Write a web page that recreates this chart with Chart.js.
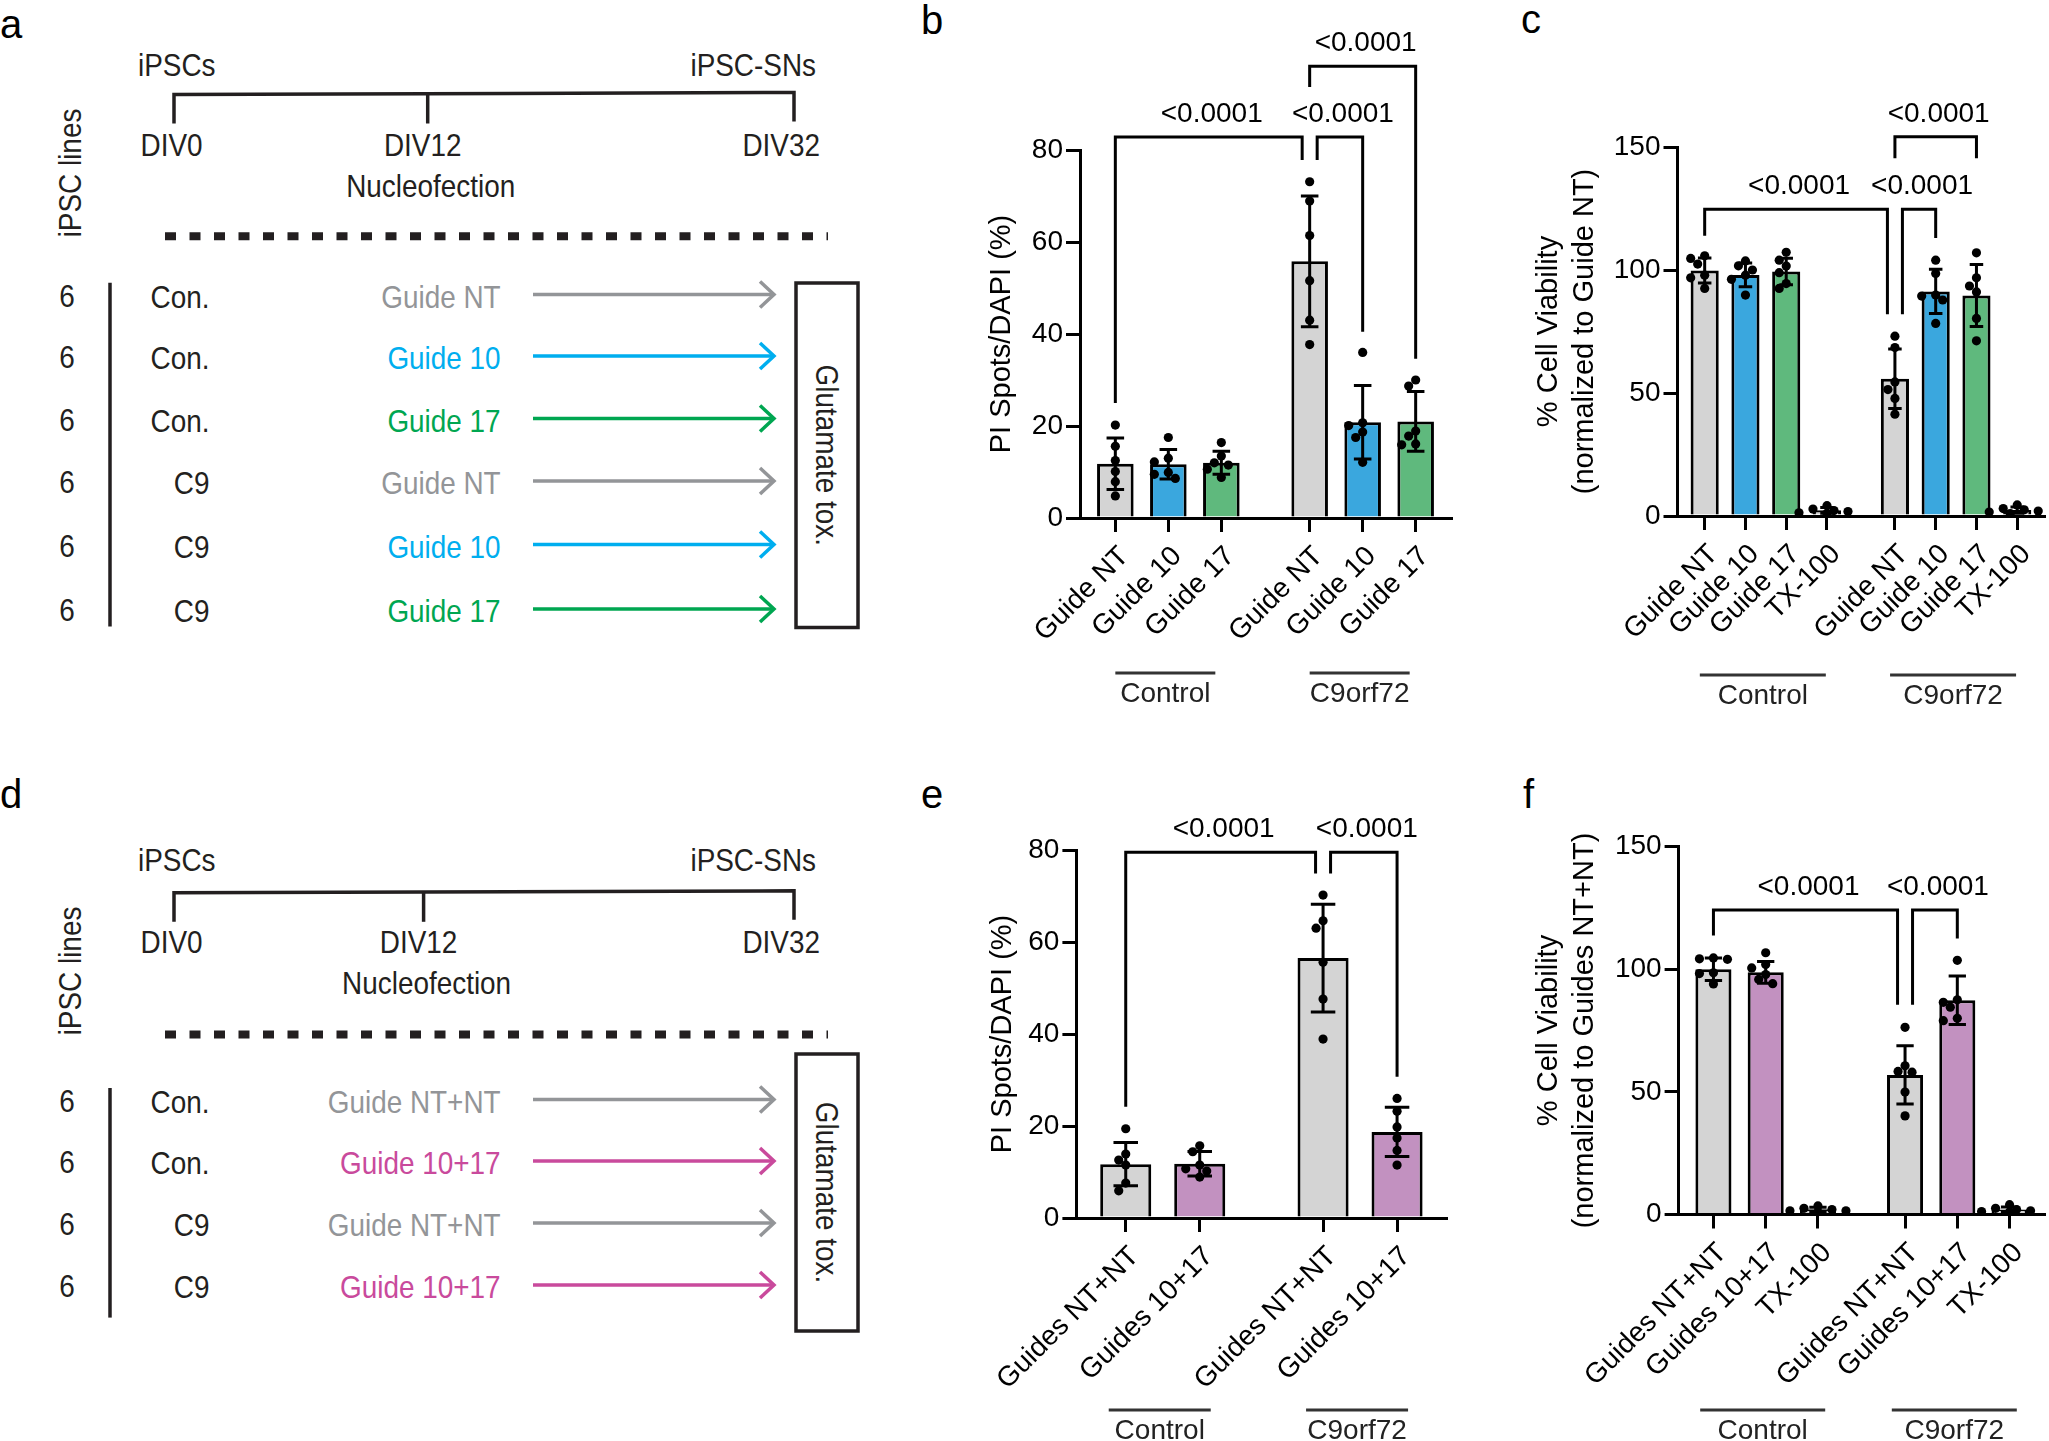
<!DOCTYPE html>
<html>
<head>
<meta charset="utf-8">
<title>Glutamate toxicity</title>
<script src="https://cdn.jsdelivr.net/npm/chart.js@4.4.1/dist/chart.umd.min.js"></script>
<style>
  html, body { margin: 0; padding: 0; background: #fff; }
  body { width: 2049px; height: 1441px; position: relative; overflow: hidden; }
  #scheme { position: absolute; left: 0; top: 0; }
  .box { position: absolute; }
</style>
</head>
<body>
<svg id="scheme" width="2049" height="1441"></svg>
<div class="box" style="left:930px;top:0;width:530px;height:720px"><canvas id="chartB"></canvas></div>
<div class="box" style="left:1500px;top:0;width:549px;height:720px"><canvas id="chartC"></canvas></div>
<div class="box" style="left:930px;top:760px;width:530px;height:681px"><canvas id="chartE"></canvas></div>
<div class="box" style="left:1500px;top:760px;width:549px;height:681px"><canvas id="chartF"></canvas></div>
<script>
// panel b - PI spots, single guides
const bLabels = ['Guide NT', 'Guide 10', 'Guide 17', 'Guide NT', 'Guide 10', 'Guide 17'];
const bGroups = [0, 0, 0, 1, 1, 1];
const bMeans = [11.8, 11.7, 12.0, 55.8, 20.8, 21.0];
const bSD = [5.6, 3.2, 2.5, 14.2, 8.0, 6.5];
const bPoints = [
    [20.2, 15.6, 12.5, 10.1, 7.9, 4.8],
    [17.5, 13.0, 12.2, 9.9, 9.5, 8.6],
    [16.4, 13.5, 12.0, 11.5, 10.6, 8.8],
    [73.1, 68.9, 61.4, 51.6, 43.0, 37.7],
    [36.0, 20.7, 20.1, 18.7, 17.5, 12.1],
    [30.0, 28.7, 18.9, 17.8, 16.1, 15.9]
];
const bBrackets = [
    { from: 0, to: 3, level: 82.8, fromEnd: 25.0, toEnd: 77.8, text: '<0.0001' },
    { from: 3, to: 4, level: 82.8, fromEnd: 77.8, toEnd: 40.5, text: '<0.0001' },
    { from: 3, to: 5, level: 98.2, fromEnd: 93.7, toEnd: 34.6, text: '<0.0001' }
];

// panel c - viability, single guides
const cLabels = ['Guide NT', 'Guide 10', 'Guide 17', 'TX-100', 'Guide NT', 'Guide 10', 'Guide 17', 'TX-100'];
const cGroups = [0, 0, 0, 0, 1, 1, 1, 1];
const cMeans = [99.8, 98.0, 99.4, 2.3, 55.8, 91.3, 89.6, 2.4];
const cSD = [5.1, 4.8, 5.4, 1.2, 12.1, 9.0, 12.6, 1.3];
const cPoints = [
    [105.8, 104.7, 102.4, 97.9, 96.8, 92.5],
    [103.7, 101.7, 100.0, 97.9, 96.2, 89.8],
    [107.2, 104.0, 101.6, 98.9, 94.5, 92.5],
    [4.2, 2.8, 2.2, 1.8, 1.3, 1.0],
    [73.1, 68.5, 54.5, 51.4, 47.8, 41.4],
    [104.0, 98.6, 89.8, 89.4, 87.8, 78.3],
    [107.0, 96.8, 93.5, 91.1, 80.3, 71.2],
    [4.5, 3.0, 2.5, 2.0, 1.6, 1.0]
];
const cBrackets = [
    { from: 0, to: 4, level: 124.7, fromEnd: 113.9, toEnd: 82.0, text: '<0.0001' },
    { from: 4, to: 5, level: 124.7, fromEnd: 82.0, toEnd: 113.0, text: '<0.0001' },
    { from: 4, to: 6, level: 154.2, fromEnd: 145.4, toEnd: 145.4, text: '<0.0001' }
];

// panel e - PI spots, double guides
const eLabels = ['Guides NT+NT', 'Guides 10+17', 'Guides NT+NT', 'Guides 10+17'];
const eGroups = [0, 0, 1, 1];
const eMeans = [11.7, 11.8, 56.5, 18.7];
const eSD = [4.7, 2.65, 11.7, 5.35];
const ePoints = [
    [19.4, 13.9, 12.6, 11.5, 7.6, 5.9],
    [15.7, 14.4, 11.5, 10.7, 10.2, 8.9],
    [70.2, 64.6, 63.0, 55.6, 47.6, 38.9],
    [26.0, 23.2, 19.8, 17.4, 14.7, 11.5]
];
const eBrackets = [
    { from: 0, to: 2, level: 79.5, fromEnd: 24.2, toEnd: 74.9, text: '<0.0001' },
    { from: 2, to: 3, level: 79.5, fromEnd: 74.9, toEnd: 30.7, text: '<0.0001' }
];

// panel f - viability, double guides
const fLabels = ['Guides NT+NT', 'Guides 10+17', 'TX-100', 'Guides NT+NT', 'Guides 10+17', 'TX-100'];
const fGroups = [0, 0, 0, 1, 1, 1];
const fMeans = [100.0, 98.7, 2.1, 56.9, 87.3, 2.0];
const fSD = [4.6, 4.4, 0.9, 11.9, 9.9, 1.1];
const fPoints = [
    [104.6, 104.2, 104.0, 98.5, 98.2, 94.0],
    [106.7, 101.9, 100.5, 97.8, 95.8, 94.1],
    [3.5, 2.5, 2.0, 1.5, 1.5, 1.0],
    [76.3, 60.6, 58.3, 58.0, 49.9, 40.2],
    [103.6, 87.5, 86.5, 84.5, 80.0, 79.0],
    [4.0, 2.5, 2.0, 1.5, 1.2, 1.0]
];
const fBrackets = [
    { from: 0, to: 3, level: 124.1, fromEnd: 113.7, toEnd: 85.5, text: '<0.0001' },
    { from: 3, to: 4, level: 124.1, fromEnd: 85.5, toEnd: 112.5, text: '<0.0001' }
];

const groupNames = ['Control', 'C9orf72'];

// schematic rows (panels a and d)
const aCounts = ['6', '6', '6', '6', '6', '6'];
const aLines = ['Con.', 'Con.', 'Con.', 'C9', 'C9', 'C9'];
const aGuides = ['Guide NT', 'Guide 10', 'Guide 17', 'Guide NT', 'Guide 10', 'Guide 17'];
const dCounts = ['6', '6', '6', '6'];
const dLines = ['Con.', 'Con.', 'C9', 'C9'];
const dGuides = ['Guide NT+NT', 'Guide 10+17', 'Guide NT+NT', 'Guide 10+17'];

// colours
const barColors = {
    'Guide NT': '#d4d4d4', 'Guide 10': '#3aa7de', 'Guide 17': '#5fb97d', 'TX-100': '#d4d4d4',
    'Guides NT+NT': '#d4d4d4', 'Guides 10+17': '#c291c0'
};
const guideColors = {
    'Guide NT': '#939598', 'Guide 10': '#00aeef', 'Guide 17': '#00a651',
    'Guide NT+NT': '#939598', 'Guide 10+17': '#c94a9c'
};

const FAMILY = '"Liberation Sans", Arial, Helvetica, sans-serif';
const FONT = '28px ' + FAMILY;
const INK = '#231f20';

Chart.defaults.font.family = FAMILY;
Chart.defaults.font.size = 28;
Chart.defaults.color = '#000';

// ---------- schematic ----------
const NS = 'http://www.w3.org/2000/svg';
const svg = document.getElementById('scheme');

function add(tag, attrs) {
    const e = document.createElementNS(NS, tag);
    for (const k in attrs) e.setAttribute(k, attrs[k]);
    svg.appendChild(e);
    return e;
}

function label(str, x, y, o = {}) {
    let tr = `translate(${x},${y})`;
    if (o.rot) tr += ` rotate(${o.rot})`;
    tr += ` scale(${o.sx === undefined ? 0.9 : o.sx},1)`;
    const t = add('text', {
        transform: tr,
        'text-anchor': o.anchor || 'start',
        'dominant-baseline': o.mid ? 'central' : 'alphabetic',
        fill: o.color || INK,
        'font-size': o.size || 31,
        'font-family': FAMILY
    });
    t.textContent = str;
}

function arrow(y, color) {
    add('line', { x1: 533, y1: y, x2: 774, y2: y, stroke: color, 'stroke-width': 3.5 });
    add('polyline', {
        points: `760,${y - 13} 774,${y} 760,${y + 13}`,
        fill: 'none', stroke: color, 'stroke-width': 3.5, 'stroke-linejoin': 'miter'
    });
}

function drawScheme(s, counts, lines, guides) {
    label('iPSCs', 138, s.topY);
    label('iPSC-SNs', 816, s.topY, { anchor: 'end' });
    add('polyline', {
        points: `174,${s.lineY + 29} 174,${s.lineY} 794,${s.lineY - 2} 794,${s.lineY + 27}`,
        fill: 'none', stroke: INK, 'stroke-width': 3.5
    });
    add('line', { x1: s.midX, y1: s.lineY - 1, x2: s.midX, y2: s.lineY + 29, stroke: INK, 'stroke-width': 3.5 });
    label('DIV0', 140.6, s.divY);
    label('DIV12', s.midX - 5, s.divY, { anchor: 'middle' });
    label('DIV32', 820, s.divY, { anchor: 'end' });
    label('Nucleofection', s.midX + 3, s.nucY, { anchor: 'middle' });
    label('iPSC lines', 70, s.linesY, { rot: -90, anchor: 'middle', mid: true });
    add('line', {
        x1: 165, y1: s.dotY, x2: 828, y2: s.dotY, stroke: INK,
        'stroke-width': 8, 'stroke-dasharray': '11 13.5'
    });
    add('line', { x1: 110, y1: s.vTop, x2: 110, y2: s.vBot, stroke: INK, 'stroke-width': 3.5 });
    s.rows.forEach((y, i) => {
        label(counts[i], 67, y + 11, { anchor: 'middle' });
        label(lines[i], 209.5, y + 12, { anchor: 'end' });
        label(guides[i], 500.6, y + 12, { anchor: 'end', color: guideColors[guides[i]] });
        arrow(y - 1, guideColors[guides[i]]);
    });
    add('rect', {
        x: 796, y: s.boxTop, width: 62, height: s.boxBot - s.boxTop,
        fill: 'none', stroke: INK, 'stroke-width': 3.5
    });
    label('Glutamate tox.', 827, (s.boxTop + s.boxBot) / 2, { rot: 90, anchor: 'middle', mid: true });
}

drawScheme({
    topY: 76, lineY: 94.5, midX: 427.7, divY: 156, nucY: 197, linesY: 173, dotY: 236.3,
    vTop: 282.7, vBot: 626.6, boxTop: 283, boxBot: 627.5,
    rows: [295.5, 357, 419.5, 482, 545.5, 610]
}, aCounts, aLines, aGuides);

drawScheme({
    topY: 871, lineY: 892.8, midX: 423.6, divY: 953.3, nucY: 994, linesY: 971, dotY: 1034.4,
    vTop: 1088, vBot: 1317.6, boxTop: 1054, boxBot: 1331,
    rows: [1100.5, 1162, 1224, 1286]
}, dCounts, dLines, dGuides);

// panel letters
[['a', 0, 38], ['b', 921, 34], ['c', 1521, 33], ['d', 0, 808], ['e', 921, 808], ['f', 1523, 808]]
    .forEach(([t, x, y]) => label(t, x, y, { sx: 1, size: 40, color: '#000' }));

// ---------- charts ----------
const NUDGE = 7.5;
const DOT_STEP = 7;
const DOT_GAP = 8.5;

// bars sit on a grid of thirds of a slot: 1 slot within a group, 5/3 between groups
function slotPositions(groups) {
    const pos = [];
    let x = 2;
    groups.forEach((g, i) => {
        if (i > 0) x += (g === groups[i - 1]) ? 3 : 5;
        pos.push(x);
    });
    return { pos, max: x + 2 };
}

function buildChart(canvasId, p) {
    const { pos, max } = slotPositions(p.groups);
    const barData = p.means.map((m, i) => ({ x: pos[i], y: m }));
    const dots = [];
    const dotBar = [];
    p.points.forEach((vals, i) => vals.forEach(v => {
        dots.push({ x: pos[i], y: v });
        dotBar.push(i);
    }));

    // spread overlapping dots sideways, like a prism scatter
    const swarm = {
        id: 'swarm',
        afterDatasetsUpdate(chart) {
            const meta = chart.getDatasetMeta(1);
            const placed = {};
            meta.data.forEach((el, i) => {
                const list = placed[dotBar[i]] || (placed[dotBar[i]] = []);
                const x0 = el.x;
                for (const k of [0, -1, 1, -2, 2, -3, 3, -4, 4]) {
                    const x = x0 + k * DOT_STEP;
                    if (list.every(q => Math.hypot(q.x - x, q.y - el.y) >= DOT_GAP)) {
                        el.x = x;
                        list.push({ x, y: el.y });
                        break;
                    }
                }
            });
        }
    };

    // mean +/- SD
    const errorBars = {
        id: 'errorBars',
        afterDatasetDraw(chart, args) {
            if (args.index !== 0) return;
            const { ctx, scales: { y } } = chart;
            ctx.save();
            ctx.strokeStyle = '#000';
            ctx.lineWidth = 3;
            args.meta.data.forEach((bar, i) => {
                const top = y.getPixelForValue(p.means[i] + p.sd[i]);
                const bot = y.getPixelForValue(Math.max(0, p.means[i] - p.sd[i]));
                const hw = bar.width * 0.24;
                ctx.beginPath();
                ctx.moveTo(bar.x, top); ctx.lineTo(bar.x, bot);
                ctx.moveTo(bar.x - hw, top); ctx.lineTo(bar.x + hw, top);
                ctx.moveTo(bar.x - hw, bot); ctx.lineTo(bar.x + hw, bot);
                ctx.stroke();
            });
            ctx.restore();
        }
    };

    // significance brackets and group captions
    const annotations = {
        id: 'annotations',
        afterDraw(chart) {
            const { ctx, chartArea, scales: { x, y } } = chart;
            ctx.save();
            ctx.lineWidth = 3;
            ctx.strokeStyle = '#000';
            ctx.fillStyle = '#000';
            ctx.lineJoin = 'miter';
            ctx.font = FONT;
            ctx.textAlign = 'center';
            ctx.textBaseline = 'alphabetic';
            const shared = (b, i) => p.brackets.some(o => o !== b && o.level === b.level && (o.from === i || o.to === i));
            p.brackets.forEach(b => {
                let x1 = x.getPixelForValue(pos[b.from]);
                let x2 = x.getPixelForValue(pos[b.to]);
                if (shared(b, b.from)) x1 += NUDGE;
                if (shared(b, b.to)) x2 -= NUDGE;
                const yl = y.getPixelForValue(b.level);
                ctx.beginPath();
                ctx.moveTo(x1, y.getPixelForValue(b.fromEnd));
                ctx.lineTo(x1, yl);
                ctx.lineTo(x2, yl);
                ctx.lineTo(x2, y.getPixelForValue(b.toEnd));
                ctx.stroke();
                ctx.fillText(b.text, (x1 + x2) / 2 + 3, yl - 15);
            });

            const ly = chartArea.bottom + p.box.groupY;
            groupNames.forEach((name, g) => {
                const idx = p.groups.map((gg, i) => (gg === g ? i : -1)).filter(i => i >= 0);
                const cx = (x.getPixelForValue(pos[idx[0]]) + x.getPixelForValue(pos[idx[idx.length - 1]])) / 2 - 3;
                ctx.strokeStyle = '#333';
                ctx.beginPath();
                ctx.moveTo(cx - p.box.groupW / 2, ly);
                ctx.lineTo(cx + p.box.groupW / 2, ly);
                ctx.stroke();
                ctx.fillStyle = '#222';
                ctx.fillText(name, cx, ly + 29);
            });
            ctx.restore();
        }
    };

    return new Chart(document.getElementById(canvasId), {
        type: 'bar',
        data: {
            datasets: [
                {
                    type: 'bar',
                    data: barData,
                    backgroundColor: p.labels.map(l => barColors[l]),
                    borderColor: '#000',
                    borderWidth: 3,
                    borderSkipped: 'start',
                    barPercentage: 0.69,
                    categoryPercentage: 1,
                    order: 2
                },
                {
                    type: 'scatter',
                    data: dots,
                    pointRadius: 4.6,
                    pointHoverRadius: 4.6,
                    pointBackgroundColor: '#000',
                    pointBorderWidth: 0,
                    order: 1
                }
            ]
        },
        options: {
            responsive: true,
            maintainAspectRatio: false,
            animation: false,
            events: [],
            layout: { padding: { top: p.box.top, right: p.box.right, bottom: 0, left: 0 } },
            plugins: {
                legend: { display: false },
                tooltip: { enabled: false }
            },
            scales: {
                x: {
                    type: 'linear',
                    min: 0,
                    max: max,
                    offset: false,
                    afterBuildTicks: s => { s.ticks = pos.map(v => ({ value: v })); },
                    afterFit: s => { s.height = p.box.xHeight; s.paddingLeft = 0; s.paddingRight = 0; },
                    ticks: {
                        autoSkip: false,
                        minRotation: 45,
                        maxRotation: 45,
                        padding: 8,
                        labelOffset: 9,
                        color: '#000',
                        callback: (v, i) => p.labels[i]
                    },
                    grid: { offset: false, drawOnChartArea: false, drawTicks: true, tickLength: 14, lineWidth: 3, color: '#000' },
                    border: { display: true, width: 3, color: '#000' }
                },
                y: {
                    min: 0,
                    max: p.yMax,
                    afterFit: s => { s.width = p.box.yWidth; s.paddingTop = 0; s.paddingBottom = 0; },
                    ticks: { stepSize: p.yStep, padding: 3, color: '#000' },
                    grid: { drawOnChartArea: false, drawTicks: true, tickLength: 14, lineWidth: 3, color: '#000' },
                    border: { display: true, width: 3, color: '#000' },
                    title: {
                        display: true,
                        text: p.yTitle,
                        color: '#000',
                        font: { size: 29, lineHeight: 1.22 },
                        padding: { top: p.box.titlePad, bottom: 0 }
                    }
                }
            }
        },
        plugins: [swarm, errorBars, annotations]
    });
}

buildChart('chartB', {
    labels: bLabels, groups: bGroups, means: bMeans, sd: bSD, points: bPoints, brackets: bBrackets,
    yMax: 80, yStep: 20, yTitle: 'PI Spots/DAPI (%)',
    box: { yWidth: 150, top: 150, right: 9, xHeight: 202, titlePad: 54.5, groupY: 155, groupW: 100 }
});

buildChart('chartC', {
    labels: cLabels, groups: cGroups, means: cMeans, sd: cSD, points: cPoints, brackets: cBrackets,
    yMax: 150, yStep: 50, yTitle: ['% Cell Viability', '(normalized to Guide NT)'],
    box: { yWidth: 177.5, top: 147, right: 2, xHeight: 204, titlePad: 31.5, groupY: 159, groupW: 126 }
});

buildChart('chartE', {
    labels: eLabels, groups: eGroups, means: eMeans, sd: eSD, points: ePoints, brackets: eBrackets,
    yMax: 80, yStep: 20, yTitle: 'PI Spots/DAPI (%)',
    box: { yWidth: 146.4, top: 90, right: 13.6, xHeight: 223, titlePad: 55, groupY: 192, groupW: 102 }
});

buildChart('chartF', {
    labels: fLabels, groups: fGroups, means: fMeans, sd: fSD, points: fPoints, brackets: fBrackets,
    yMax: 150, yStep: 50, yTitle: ['% Cell Viability', '(normalized to Guides NT+NT)'],
    box: { yWidth: 178.6, top: 86.5, right: 2, xHeight: 226.5, titlePad: 31.5, groupY: 195.5, groupW: 125 }
});
</script>
</body>
</html>
